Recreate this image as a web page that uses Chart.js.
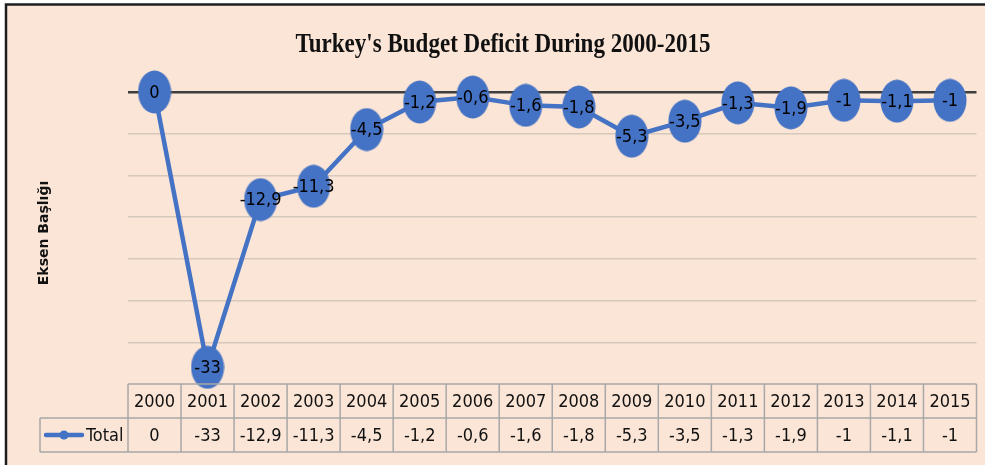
<!DOCTYPE html>
<html>
<head>
<meta charset="utf-8">
<script src="https://cdn.jsdelivr.net/npm/chart.js@4.4.1/dist/chart.umd.min.js"></script>
<style>
  html, body { margin:0; padding:0; background:#fff; }
  #wrap { width:985px; height:465px; position:relative; }
</style>
</head>
<body>
<div id="wrap"><canvas id="chart" width="985" height="465"></canvas></div>
<script>
// budget deficit chart, data table drawn under the plot like the Excel original

const years = ['2000','2001','2002','2003','2004','2005','2006','2007','2008','2009','2010','2011','2012','2013','2014','2015'];
const totals = [0, -33, -12.9, -11.3, -4.5, -1.2, -0.6, -1.6, -1.8, -5.3, -3.5, -1.3, -1.9, -1, -1.1, -1];
const seriesName = 'Total';
const chartTitle = "Turkey's Budget Deficit During 2000-2015";
const axisTitle = 'Eksen Başlığı';

const BLUE = '#4472C4';
const BG = '#FBE5D6';
const narrow = "'Liberation Sans Narrow', 'DejaVu Sans Condensed', sans-serif";

const fmt = v => String(v).replace('.', ',');

// oval marker like the Excel one
function ovalMarker(w, h){
  const c = document.createElement('canvas');
  c.width = w; c.height = h;
  const g = c.getContext('2d');
  g.fillStyle = BLUE;
  g.beginPath();
  g.ellipse(w/2, h/2, w/2 - 0.5, h/2 - 0.5, 0, 0, Math.PI*2);
  g.fill();
  return c;
}
const marker = ovalMarker(34, 44);

const framePlugin = {
  id: 'frame',
  beforeDraw(chart){
    const ctx = chart.ctx;
    ctx.save();
    ctx.fillStyle = '#fff';
    ctx.fillRect(0, 0, chart.width, chart.height);
    ctx.fillStyle = BG;
    ctx.fillRect(7, 5, chart.width - 7, chart.height - 5);
    ctx.strokeStyle = '#1e1e1e';
    ctx.lineWidth = 2.5;
    ctx.beginPath();
    ctx.moveTo(6, chart.height);
    ctx.lineTo(6, 4.5);
    ctx.lineTo(chart.width, 4.5);
    ctx.stroke();

    // chart title, condensed serif
    ctx.fillStyle = '#111';
    ctx.font = "bold 28px 'Liberation Serif', serif";
    ctx.textBaseline = 'middle';
    ctx.textAlign = 'center';
    const w = ctx.measureText(chartTitle).width;
    const sx = 415 / w;
    ctx.translate(503, 45);
    ctx.scale(sx, 1);
    ctx.fillText(chartTitle, 0, 0);
    ctx.restore();

    // vertical axis title
    ctx.save();
    ctx.fillStyle = '#111';
    ctx.font = "bold 14px 'DejaVu Sans', sans-serif";
    ctx.textAlign = 'center';
    ctx.textBaseline = 'middle';
    ctx.translate(44, 233);
    ctx.rotate(-Math.PI/2);
    ctx.fillText(axisTitle, 0, 0);
    ctx.restore();
  }
};

const labelPlugin = {
  id: 'pointLabels',
  afterDatasetsDraw(chart){
    const ctx = chart.ctx;
    const meta = chart.getDatasetMeta(0);
    ctx.save();
    ctx.fillStyle = '#000';
    ctx.font = '18px ' + narrow;
    ctx.textAlign = 'center';
    ctx.textBaseline = 'middle';
    meta.data.forEach((pt, i) => {
      ctx.fillText(fmt(totals[i]), pt.x, pt.y + 1);
    });
    ctx.restore();
  }
};

const tablePlugin = {
  id: 'dataTable',
  afterDraw(chart){
    const ctx = chart.ctx;
    const xs = chart.scales.x;
    const area = chart.chartArea;
    const top = area.bottom;
    const rowH = 34;
    const left = area.left, right = area.right;
    const colW = (right - left) / years.length;
    const legL = 40;
    ctx.save();
    ctx.strokeStyle = '#A8A8A8';
    ctx.lineWidth = 1.5;
    ctx.beginPath();
    ctx.moveTo(left, top); ctx.lineTo(right, top);
    ctx.moveTo(legL, top + rowH); ctx.lineTo(right, top + rowH);
    ctx.moveTo(legL, top + rowH*2); ctx.lineTo(right, top + rowH*2);
    for (let i = 0; i <= years.length; i++){
      const x = left + i*colW;
      ctx.moveTo(x, top); ctx.lineTo(x, top + rowH*2);
    }
    ctx.moveTo(legL, top + rowH); ctx.lineTo(legL, top + rowH*2);
    ctx.stroke();

    ctx.fillStyle = '#111';
    ctx.font = '18px ' + narrow;
    ctx.textAlign = 'center';
    ctx.textBaseline = 'middle';
    years.forEach((y, i) => {
      const x = xs.getPixelForValue(i);
      ctx.fillText(y, x, top + rowH/2 + 1);
      ctx.fillText(fmt(totals[i]), x, top + rowH*1.5 + 1);
    });

    // legend key in the table
    const ly = top + rowH*1.5;
    ctx.strokeStyle = BLUE;
    ctx.lineWidth = 4.5;
    ctx.lineCap = 'round';
    ctx.beginPath();
    ctx.moveTo(46, ly); ctx.lineTo(82, ly);
    ctx.stroke();
    ctx.fillStyle = BLUE;
    ctx.beginPath();
    ctx.arc(64, ly, 4.5, 0, Math.PI*2);
    ctx.fill();
    ctx.fillStyle = '#111';
    ctx.textAlign = 'left';
    ctx.fillText(seriesName, 86, ly + 1);
    ctx.restore();
  }
};

new Chart(document.getElementById('chart'), {
  type: 'line',
  data: {
    labels: years,
    datasets: [{
      label: seriesName,
      data: totals,
      borderColor: BLUE,
      borderWidth: 4.5,
      backgroundColor: BLUE,
      pointStyle: marker,
      tension: 0,
      fill: false,
      clip: false
    }]
  },
  options: {
    responsive: false,
    animation: false,
    layout: { padding: { left: 128, right: 8, top: 92, bottom: 81 } },
    plugins: { legend: { display: false }, title: { display: false }, tooltip: { enabled: false } },
    scales: {
      x: { type: 'category', offset: true, display: false },
      y: {
        min: -35, max: 0,
        afterFit: s => { s.width = 0; },
        ticks: { display: false, stepSize: 5 },
        border: { display: false },
        grid: {
          drawTicks: false,
          color: c => c.tick.value === 0 ? '#3f3f3f' : (c.tick.value === -35 ? 'rgba(0,0,0,0)' : '#D6C8BC'),
          lineWidth: c => c.tick.value === 0 ? 2.5 : 1.5
        }
      }
    }
  },
  plugins: [framePlugin, labelPlugin, tablePlugin]
});
</script>
</body>
</html>
